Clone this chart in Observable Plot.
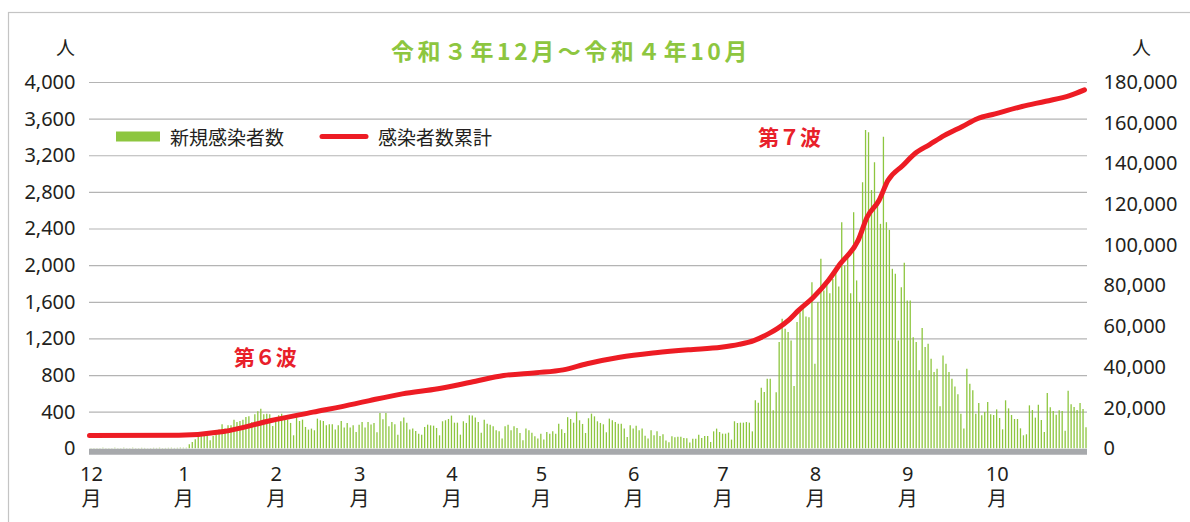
<!DOCTYPE html>
<html><head><meta charset="utf-8">
<script src="https://cdn.jsdelivr.net/npm/d3@7"></script>
<script src="https://cdn.jsdelivr.net/npm/@observablehq/plot@0.6"></script>
<style>
html,body{margin:0;padding:0;background:#fff;}
#chart{width:1190px;height:522px;overflow:hidden;}
</style></head><body><div id="chart"></div>
<script>
// ---- data ----
const startDate = "2021-12-01";
const endDate = "2022-11-01";
const titleText = "令和３年12月～令和４年10月";
const seriesNames = ["新規感染者数", "感染者数累計"];
const unitLabel = "人";
const monthStarts = ["2021-12-01","2022-01-01","2022-02-01","2022-03-01","2022-04-01","2022-05-01","2022-06-01","2022-07-01","2022-08-01","2022-09-01","2022-10-01"];
const monthLabels = ["12","1","2","3","4","5","6","7","8","9","10"];
const leftTicks = [0,400,800,1200,1600,2000,2400,2800,3200,3600,4000];
const rightTicks = [0,20000,40000,60000,80000,100000,120000,140000,160000,180000];
const axisRatio = 45; // right axis value per left axis unit

// daily new cases, one value per day, month by month
const dec = [3,2,4,3,5,2,3,4,6,3,2,5,4,3,6,4,3,5,4,2,3,5,4,6,3,4,5,6,4,5,7];
const jan = [7,7,44,69,98,124,135,138,142,87,135,150,204,262,215,251,251,313,288,298,313,342,349,288,371,404,433,371,378,371,244];
const feb = [295,360,378,335,313,277,142,342,298,313,233,204,215,197,324,306,298,251,262,262,204,251,298,226,277,226,251,178];
const mar = [258,288,226,288,260,277,175,386,317,386,240,288,262,149,295,335,280,204,215,189,160,149,233,258,251,247,222,142,295,306,320];
const apr = [357,280,280,149,295,277,360,357,335,288,171,313,269,258,240,197,186,106,240,258,197,240,222,167,87,215,197,171,131,106];
const may = [160,95,178,160,186,160,269,207,167,340,320,280,400,306,266,167,328,378,349,295,277,262,175,324,306,288,269,269,215,124,251];
const jun = [215,247,197,215,138,106,197,142,186,135,153,84,66,131,120,127,127,113,109,62,105,105,149,113,135,135,69,185,215,178];
const jul = [160,160,171,95,295,276,280,280,287,280,185,524,498,662,614,760,760,415,611,1160,1414,1305,1269,1178,680,1378,1487,1560,1440,1432,1814];
const aug = [923,1596,2069,1723,1850,1694,1850,1960,1767,2469,1996,2105,1694,2578,1833,1596,2905,3476,3451,2822,3123,2705,2451,3403,2469,2385,1960,1905,1178,1760,2025];
const sep = [1614,1614,1214,1160,851,1313,1105,1142,978,833,869,458,1014,923,833,760,676,589,378,215,869,705,633,378,494,360,396,505,371,364];
const oct = [425,331,207,524,436,364,320,320,218,142,153,469,418,335,476,309,178,604,447,407,367,415,407,193,629,480,451,418,494,429,229];

// cumulative total, read at points along the red line
const cumDates = ["2021-12-01","2021-12-31","2022-01-15","2022-01-31","2022-02-14","2022-02-28","2022-03-05","2022-03-16","2022-03-28","2022-04-08","2022-04-19","2022-04-30","2022-05-09","2022-05-17","2022-05-28","2022-06-09","2022-06-20","2022-07-01","2022-07-07","2022-07-12","2022-07-17","2022-07-20","2022-07-24","2022-07-27","2022-08-01","2022-08-06","2022-08-10","2022-08-16","2022-08-19","2022-08-23","2022-08-26","2022-08-31","2022-09-04","2022-09-09","2022-09-14","2022-09-20","2022-09-25","2022-10-01","2022-10-10","2022-10-18","2022-10-26","2022-10-31"];
const cumValues = [6500,6700,8500,13900,18000,22100,23700,27000,29500,32700,36000,37400,38800,41800,45000,47200,48700,49900,51300,53200,56600,59200,63600,68000,74500,82700,90900,102400,113800,122000,131800,139200,145000,149500,154000,158400,162200,164600,168200,170800,173600,176400];

const waveLabels = ["第６波","第７波"];
const waveDates = ["2022-01-29","2022-07-24"];
const waveValues = [986,3388];

// ---- build tables ----
const t0 = new Date(startDate);
const daily = [].concat(dec,jan,feb,mar,apr,may,jun,jul,aug,sep,oct)
  .map((v,i) => ({date: d3.utcHour.offset(d3.utcDay.offset(t0, i), 12), value: v}));
const cum = cumDates.map((d,i) => ({date: new Date(d), value: cumValues[i]}));
const waves = waveLabels.map((t,i) => ({text: t, date: new Date(waveDates[i]), value: waveValues[i]}));
const months = monthStarts.map(d => new Date(d));

const textColor = "#231f20";
const green = "#8dc63f";
const red = "#ed1c24";
const latin = "'Noto Sans', 'Noto Sans CJK JP', sans-serif";
const cjk = "'Noto Sans CJK JP', sans-serif";

const chart = Plot.plot({
  width: 1190,
  height: 522,
  marginLeft: 89,
  marginRight: 103,
  marginTop: 82,
  marginBottom: 73.7,
  style: {fontFamily: latin, fontSize: "20px", color: textColor, background: "#fff"},
  x: {type: "utc", domain: [new Date(startDate), new Date(endDate)], label: null},
  y: {domain: [0, 4000], label: null},
  marks: [
    Plot.gridY(leftTicks.slice(1), {stroke: "#b4b4b4", strokeOpacity: 1, strokeWidth: 1.2}),
    Plot.ruleX(daily, {x: "date", y1: 0, y2: "value", stroke: green, strokeWidth: 1.3}),
    Plot.ruleY([0], {stroke: "#a7a9ac", strokeWidth: 6, dy: 3}),
    Plot.line(cum, {x: "date", y: d => d.value / axisRatio, stroke: red, strokeWidth: 5, curve: "monotone-x", strokeLinecap: "round", strokeLinejoin: "round"}),
    Plot.axisY(leftTicks, {anchor: "left", tickSize: 0, tickPadding: 14, tickFormat: d3.format(","), fontSize: 20, fill: textColor, label: null}),
    Plot.axisY(rightTicks.map(v => v / axisRatio), {anchor: "right", tickSize: 0, tickPadding: 16, tickFormat: d => d3.format(",")(Math.round(d * axisRatio)), fontSize: 20, fill: textColor, label: null}),
    Plot.axisX(months, {anchor: "bottom", tickSize: 0, tickPadding: 14, dx: 2, tickFormat: d => monthLabels[months.findIndex(m => +m === +d)] + "\n月", fontSize: 20, lineHeight: 1.25, fill: textColor, label: null}),
    Plot.text(waves, {x: "date", y: "value", text: "text", fill: "#e8202a", fontSize: 21, fontWeight: "bold", fontFamily: cjk})
  ]
});

document.getElementById("chart").appendChild(chart);

// ---- decorations: frame, title, units, legend ----
const svg = d3.select(chart);
svg.insert("rect", ":first-child")
  .attr("x", 8.5).attr("y", 12.5).attr("width", 1300).attr("height", 700)
  .attr("fill", "none").attr("stroke", "#c4c4c4").attr("stroke-width", 1.2);

svg.append("text").text(titleText)
  .attr("x", 571).attr("y", 60).attr("text-anchor", "middle")
  .attr("font-family", cjk).attr("font-weight", "bold").attr("font-size", 23)
  .attr("letter-spacing", 3.5).attr("fill", green);

svg.append("text").text(unitLabel).attr("x", 75).attr("y", 55).attr("text-anchor", "end")
  .attr("font-family", cjk).attr("font-size", 19).attr("fill", textColor);
svg.append("text").text(unitLabel).attr("x", 1132).attr("y", 55).attr("text-anchor", "start")
  .attr("font-family", cjk).attr("font-size", 19).attr("fill", textColor);

const lg = svg.append("g").attr("text-anchor", "start");
lg.append("rect").attr("x", 116).attr("y", 131.5).attr("width", 44).attr("height", 10).attr("fill", green);
lg.append("text").text(seriesNames[0]).attr("x", 170).attr("y", 144.5).attr("text-anchor", "start")
  .attr("font-family", cjk).attr("font-size", 19).attr("fill", textColor);
lg.append("line").attr("x1", 322).attr("x2", 366).attr("y1", 136.5).attr("y2", 136.5)
  .attr("stroke", red).attr("stroke-width", 5).attr("stroke-linecap", "round");
lg.append("text").text(seriesNames[1]).attr("x", 378).attr("y", 144.5).attr("text-anchor", "start")
  .attr("font-family", cjk).attr("font-size", 19).attr("fill", textColor);
</script>
</body></html>
